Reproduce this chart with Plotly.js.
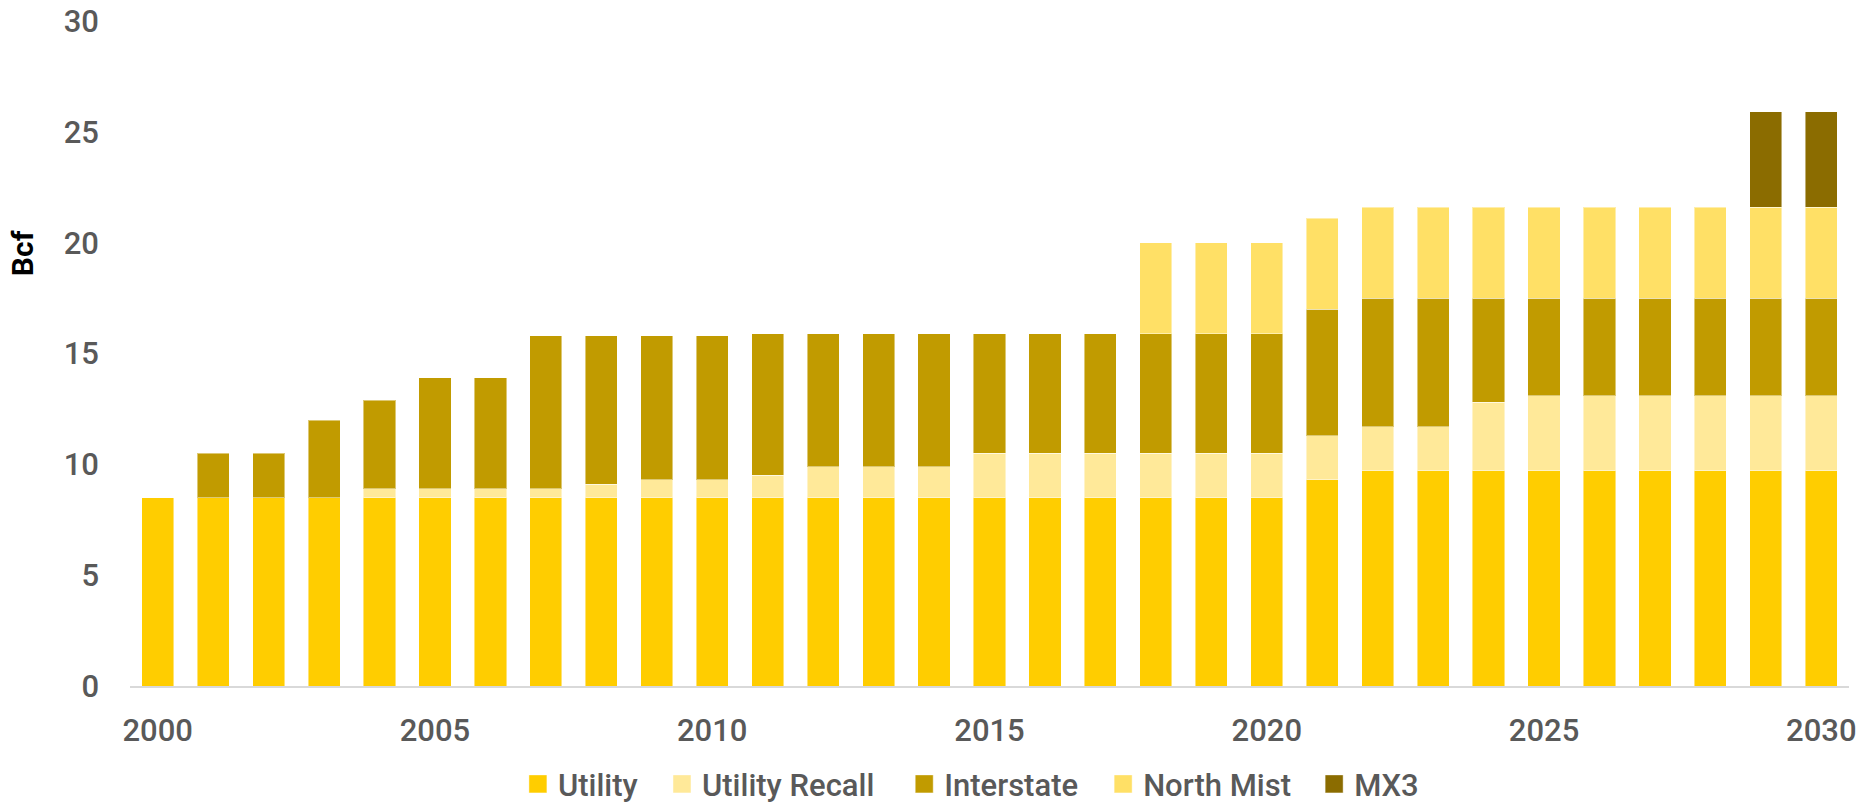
<!DOCTYPE html>
<html>
<head>
<meta charset="utf-8">
<script src="https://cdn.plot.ly/plotly-3.0.1.min.js"></script>
<style>
  html, body { margin: 0; padding: 0; background: #ffffff; }
  #chart { width: 1859px; height: 806px; }
</style>
</head>
<body>
<div id="chart"></div>
<script>
const years = [2000,2001,2002,2003,2004,2005,2006,2007,2008,2009,2010,2011,2012,2013,2014,2015,2016,2017,2018,2019,2020,2021,2022,2023,2024,2025,2026,2027,2028,2029,2030];

const utility = [8.5,8.5,8.5,8.5,8.5,8.5,8.5,8.5,8.5,8.5,8.5,8.5,8.5,8.5,8.5,8.5,8.5,8.5,8.5,8.5,8.5,9.3,9.7,9.7,9.7,9.7,9.7,9.7,9.7,9.7,9.7];
const utilityRecall = [0,0,0,0,0.4,0.4,0.4,0.4,0.6,0.8,0.8,1.0,1.4,1.4,1.4,2.0,2.0,2.0,2.0,2.0,2.0,2.0,2.0,2.0,3.1,3.4,3.4,3.4,3.4,3.4,3.4];
const interstate = [0,2.0,2.0,3.5,4.0,5.0,5.0,6.9,6.7,6.5,6.5,6.4,6.0,6.0,6.0,5.4,5.4,5.4,5.4,5.4,5.4,5.7,5.8,5.8,4.7,4.4,4.4,4.4,4.4,4.4,4.4];
const northMist = [0,0,0,0,0,0,0,0,0,0,0,0,0,0,0,0,0,0,4.1,4.1,4.1,4.1,4.1,4.1,4.1,4.1,4.1,4.1,4.1,4.1,4.1];
const mx3 = [0,0,0,0,0,0,0,0,0,0,0,0,0,0,0,0,0,0,0,0,0,0,0,0,0,0,0,0,0,4.3,4.3];

const seriesNames = ["Utility", "Utility Recall", "Interstate", "North Mist", "MX3"];
const seriesValues = [utility, utilityRecall, interstate, northMist, mx3];
const seriesColors = ["#FFCD00", "#FFE999", "#C19B00", "#FFE066", "#8B6C00"];

const xTickVals = [2000, 2005, 2010, 2015, 2020, 2025, 2030];
const xTickText = ["2000", "2005", "2010", "2015", "2020", "2025", "2030"];
const yTickVals = [0, 5, 10, 15, 20, 25, 30];

const FONT = "Roboto, 'DejaVu Sans Condensed', sans-serif";
const GREY = "#595959";

// legend entry positions (container fraction, left edge of each entry)
const legendX = [0.2786, 0.3561, 0.4864, 0.5934, 0.7069];
const legendNames = ["legend", "legend2", "legend3", "legend4", "legend5"];

const traces = seriesNames.map((name, i) => ({
  type: "bar",
  name: name,
  x: years,
  y: seriesValues[i].map(v => (v === 0 ? null : v)),
  legend: legendNames[i],
  marker: { color: seriesColors[i], line: { color: "rgba(255,255,255,0.45)", width: 1 } },
  hoverinfo: "x+y+name"
}));

const layout = {
  width: 1859,
  height: 806,
  paper_bgcolor: "#ffffff",
  plot_bgcolor: "#ffffff",
  barmode: "stack",
  bargap: 0.42,
  margin: { l: 130, r: 10, t: 21, b: 120, autoexpand: false },
  font: { family: FONT, color: GREY, size: 31, weight: 500 },
  xaxis: {
    range: [1999.5, 2030.5],
    tickmode: "array",
    tickvals: xTickVals,
    ticktext: xTickText,
    showgrid: false,
    zeroline: false,
    showline: true,
    linecolor: "#D9D9D9",
    linewidth: 2,
    ticks: "",
    automargin: false,
    ticklabelstandoff: 16,
    tickfont: { family: FONT, size: 31, color: GREY, weight: 500 },
    fixedrange: true
  },
  yaxis: {
    range: [0, 30],
    tickmode: "array",
    tickvals: yTickVals,
    showgrid: false,
    zeroline: false,
    showline: false,
    ticks: "",
    automargin: false,
    ticklabelstandoff: 30,
    tickfont: { family: FONT, size: 31, color: GREY, weight: 500 },
    fixedrange: true
  },
  showlegend: true,
  annotations: [{
    text: "Bcf",
    xref: "paper",
    yref: "paper",
    x: -0.0628,
    y: 0.651,
    xanchor: "center",
    yanchor: "middle",
    textangle: -90,
    showarrow: false,
    font: { family: FONT, size: 30, color: "#000000", weight: 700 }
  }]
};

legendNames.forEach((ln, i) => {
  layout[ln] = {
    orientation: "h",
    xref: "container",
    yref: "container",
    x: legendX[i],
    xanchor: "left",
    y: 0.027,
    yanchor: "middle",
    bgcolor: "rgba(0,0,0,0)",
    borderwidth: 0,
    font: { family: FONT, size: 31, color: GREY, weight: 500 },
    itemclick: false,
    itemdoubleclick: false
  };
});

Plotly.newPlot("chart", traces, layout, { displayModeBar: false, responsive: false }).then(gd => {
  // enlarge the legend swatches to match the reference squares
  gd.querySelectorAll(".legendpoints path").forEach(p => {
    p.setAttribute("d", "M9,9H-9V-9H9Z");
  });
});
</script>
</body>
</html>
